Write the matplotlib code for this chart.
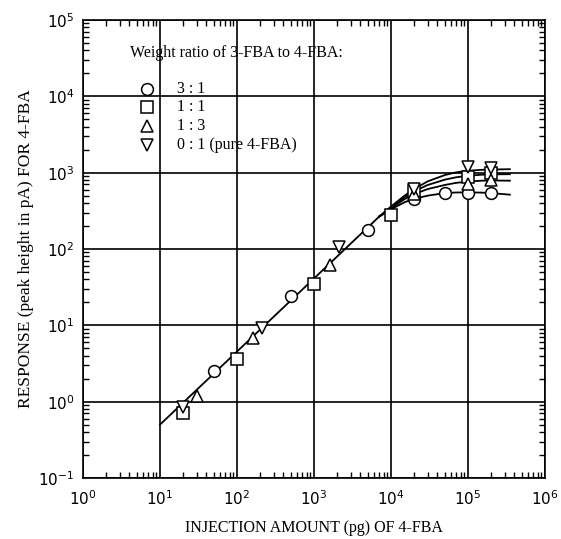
import numpy as np
import matplotlib
matplotlib.use("Agg")
import matplotlib.pyplot as plt
from matplotlib.ticker import LogLocator, NullFormatter

plt.rcParams['mathtext.fontset'] = 'custom'
plt.rcParams['mathtext.rm'] = 'Liberation Sans'
plt.rcParams['mathtext.it'] = 'Liberation Sans'
plt.rcParams['mathtext.default'] = 'regular'
plt.rcParams['axes.unicode_minus'] = False

# ---- data ----
circle_x = [50, 500, 5000, 2e4, 5e4, 1e5, 2e5]
circle_y = [2.5, 24, 180, 450, 545, 540, 540]
square_x = [20, 100, 1000, 1e4, 2e4, 1e5, 2e5]
square_y = [0.72, 3.6, 35, 280, 570, 880, 980]
tri_up_x = [30, 160, 1600, 2e4, 1e5, 2e5]
tri_up_y = [1.2, 6.9, 61, 530, 720, 800]
tri_dn_x = [20, 210, 2100, 2e4, 1e5, 2e5]
tri_dn_y = [0.85, 9.3, 105, 620, 1190, 1150]

line_x = [10, 7000]
line_y = [0.5, 265]

curve_x = [7000, 1e4, 1.5e4, 2e4, 3e4, 5e4, 7e4, 1e5, 1.5e5, 2e5, 3.5e5]
curve_top = [265, 360, 500, 610, 770, 930, 1010, 1060, 1090, 1100, 1110]
curve_sq = [265, 350, 475, 570, 690, 810, 870, 910, 940, 950, 955]
curve_tri = [265, 340, 450, 525, 610, 690, 735, 765, 785, 790, 785]
curve_cir = [265, 330, 410, 455, 500, 540, 550, 552, 548, 540, 515]

legend_labels = ["3 : 1", "1 : 1", "1 : 3", "0 : 1 (pure 4-FBA)"]
legend_title = "Weight ratio of 3-FBA to 4-FBA:"
xlabel = "INJECTION AMOUNT (pg) OF 4-FBA"
ylabel = "RESPONSE (peak height in pA) FOR 4-FBA"

W, H = 561, 539
fig = plt.figure(figsize=(W / 100, H / 100), dpi=100)
L, R, T, B = 83, 545, 20, 478
ax = fig.add_axes([L / W, 1 - B / H, (R - L) / W, (B - T) / H])

ax.set_xscale('log')
ax.set_yscale('log')
ax.set_xlim(1, 1e6)
ax.set_ylim(0.1, 1e5)

ax.grid(True, which='major', color='black', linewidth=1.2)
ax.set_axisbelow(True)

lw = 1.3
ax.plot(line_x, line_y, color='black', lw=lw)
for cy in (curve_top, curve_sq, curve_tri, curve_cir):
    ax.plot(curve_x, cy, color='black', lw=lw)

mk = dict(markerfacecolor='white', markeredgecolor='black', markeredgewidth=1.1,
          linestyle='none', ms=8.5)
ax.plot(circle_x, circle_y, marker='o', **mk)
ax.plot(square_x, square_y, marker='s', **dict(mk, ms=8))
ax.plot(tri_up_x, tri_up_y, marker='^', **mk)
ax.plot(tri_dn_x, tri_dn_y, marker='v', **mk)

ax.xaxis.set_major_locator(LogLocator(base=10, numticks=10))
ax.yaxis.set_major_locator(LogLocator(base=10, numticks=10))
ax.xaxis.set_minor_locator(LogLocator(base=10, subs=np.arange(2, 10), numticks=20))
ax.yaxis.set_minor_locator(LogLocator(base=10, subs=np.arange(2, 10), numticks=20))
ax.xaxis.set_minor_formatter(NullFormatter())
ax.yaxis.set_minor_formatter(NullFormatter())
ax.tick_params(which='both', direction='in', top=True, right=True, width=1.0,
               labelsize=11, colors='black')
ax.tick_params(which='major', length=0)
ax.tick_params(which='minor', length=4)
ax.tick_params(axis='x', pad=8)
ax.tick_params(axis='y', pad=6)
for s in ax.spines.values():
    s.set_linewidth(1.2)

serif = ['Liberation Serif', 'DejaVu Serif']
ax.set_xlabel(xlabel, fontsize=11.5, family=serif, labelpad=9)
ax.set_ylabel(ylabel, fontsize=12.5, family=serif, labelpad=3)

def axpos(px, py):
    return ((px - L) / (R - L), 1 - (py - T) / (B - T))

ax.text(*axpos(130, 53), legend_title, transform=ax.transAxes, fontsize=11.5,
        family=serif, va='center', ha='left')
rows = [89, 107, 126, 145]
markers = ['o', 's', '^', 'v']
for yy, m, lab in zip(rows, markers, legend_labels):
    mx, my = axpos(147, yy)
    ax.plot([mx], [my], marker=m, transform=ax.transAxes, clip_on=False,
            **dict(mk, ms=8 if m == 's' else 8.5))
    ax.text(*axpos(177, yy), lab, transform=ax.transAxes, fontsize=11.5,
            family=serif, va='center', ha='left')

fig.savefig('out.png', dpi=100)
